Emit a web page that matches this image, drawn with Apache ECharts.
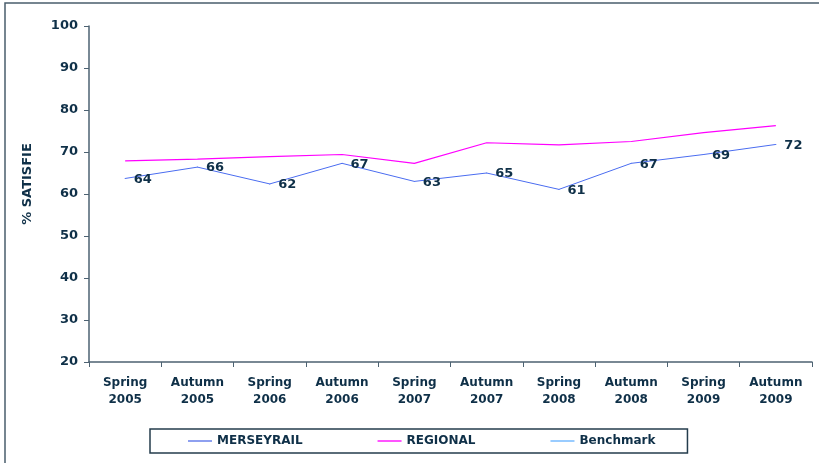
<!DOCTYPE html>
<html><head><meta charset="utf-8">
<script src="https://cdn.jsdelivr.net/npm/echarts@6/dist/echarts.min.js"></script>
<style>html,body{margin:0;padding:0;background:#fff}#c{width:819px;height:463px}</style>
</head><body><div id="c"></div>
<script>
const categories = ['Spring\n2005','Autumn\n2005','Spring\n2006','Autumn\n2006','Spring\n2007','Autumn\n2007','Spring\n2008','Autumn\n2008','Spring\n2009','Autumn\n2009'];
const merseyrail = [63.7, 66.4, 62.4, 67.3, 63.0, 65.0, 61.1, 67.3, 69.4, 71.8];
const regional = [67.9, 68.3, 68.9, 69.4, 67.3, 72.2, 71.7, 72.5, 74.6, 76.3];
const benchmark = [];
const yTicks = {min: 20, max: 100, interval: 10};

const txt = '#0f3048';
const axisCol = '#4d6272';
const font = 'DejaVu Sans';
const chart = echarts.init(document.getElementById('c'));
chart.setOption({
  animation: false,
  textStyle: {fontFamily: font},
  graphic: [{type: 'rect', shape: {x: 5, y: 3, width: 900, height: 600}, style: {fill: 'none', stroke: '#4a5e6c', lineWidth: 1.5}}],
  grid: {left: 89, right: 7, top: 26, bottom: 101},
  legend: {
    bottom: 10, left: 150, itemGap: 75, itemWidth: 24, itemHeight: 2, icon: 'rect',
    padding: [6, 32, 6, 38],
    borderColor: '#243c4c', borderWidth: 1.5,
    textStyle: {fontFamily: font, fontWeight: 'bold', fontSize: 12, color: txt},
    data: [
      {name: 'MERSEYRAIL', itemStyle: {color: '#8ea0f0', opacity: 1}},
      {name: 'REGIONAL', itemStyle: {color: '#ff55ff'}},
      {name: 'Benchmark', itemStyle: {color: '#99ccff'}}
    ]
  },
  xAxis: {
    type: 'category', data: categories, boundaryGap: true,
    axisLine: {lineStyle: {color: axisCol, width: 1.5}},
    axisTick: {show: true, length: 5, lineStyle: {color: axisCol}},
    axisLabel: {fontFamily: font, fontWeight: 'bold', fontSize: 12, color: txt, lineHeight: 17, margin: 12, interval: 0}
  },
  yAxis: {
    type: 'value', min: yTicks.min, max: yTicks.max, interval: yTicks.interval,
    name: '% SATISFIE', nameLocation: 'middle', nameGap: 55, nameRotate: 90,
    nameTextStyle: {fontFamily: font, fontWeight: 'bold', fontSize: 13, color: txt, padding: [0, 0, 0, 20]},
    splitLine: {show: false},
    axisLine: {show: true, lineStyle: {color: axisCol, width: 1.5}},
    axisTick: {show: true, length: 5, lineStyle: {color: axisCol}},
    axisLabel: {fontFamily: font, fontWeight: 'bold', fontSize: 13, color: txt, margin: 11}
  },
  series: [
    {name: 'MERSEYRAIL', type: 'line', data: merseyrail, symbol: 'circle', symbolSize: 1, showSymbol: true, color: '#4a6cf0',
      itemStyle: {color: '#4a6cf0'},
      lineStyle: {width: 1, color: '#4a6cf0'},
      label: {show: true, position: 'right', distance: 8, offset: [0, 1], formatter: p => Math.round(p.value),
        fontFamily: font, fontWeight: 'bold', fontSize: 13, color: txt}},
    {name: 'REGIONAL', type: 'line', data: regional, symbol: 'none', color: '#ff00ff',
      lineStyle: {width: 1.2, color: '#ff00ff'}},
    {name: 'Benchmark', type: 'line', data: benchmark, symbol: 'none', color: '#99ccff',
      lineStyle: {width: 3, color: '#99ccff'}}
  ]
});
</script></body></html>
